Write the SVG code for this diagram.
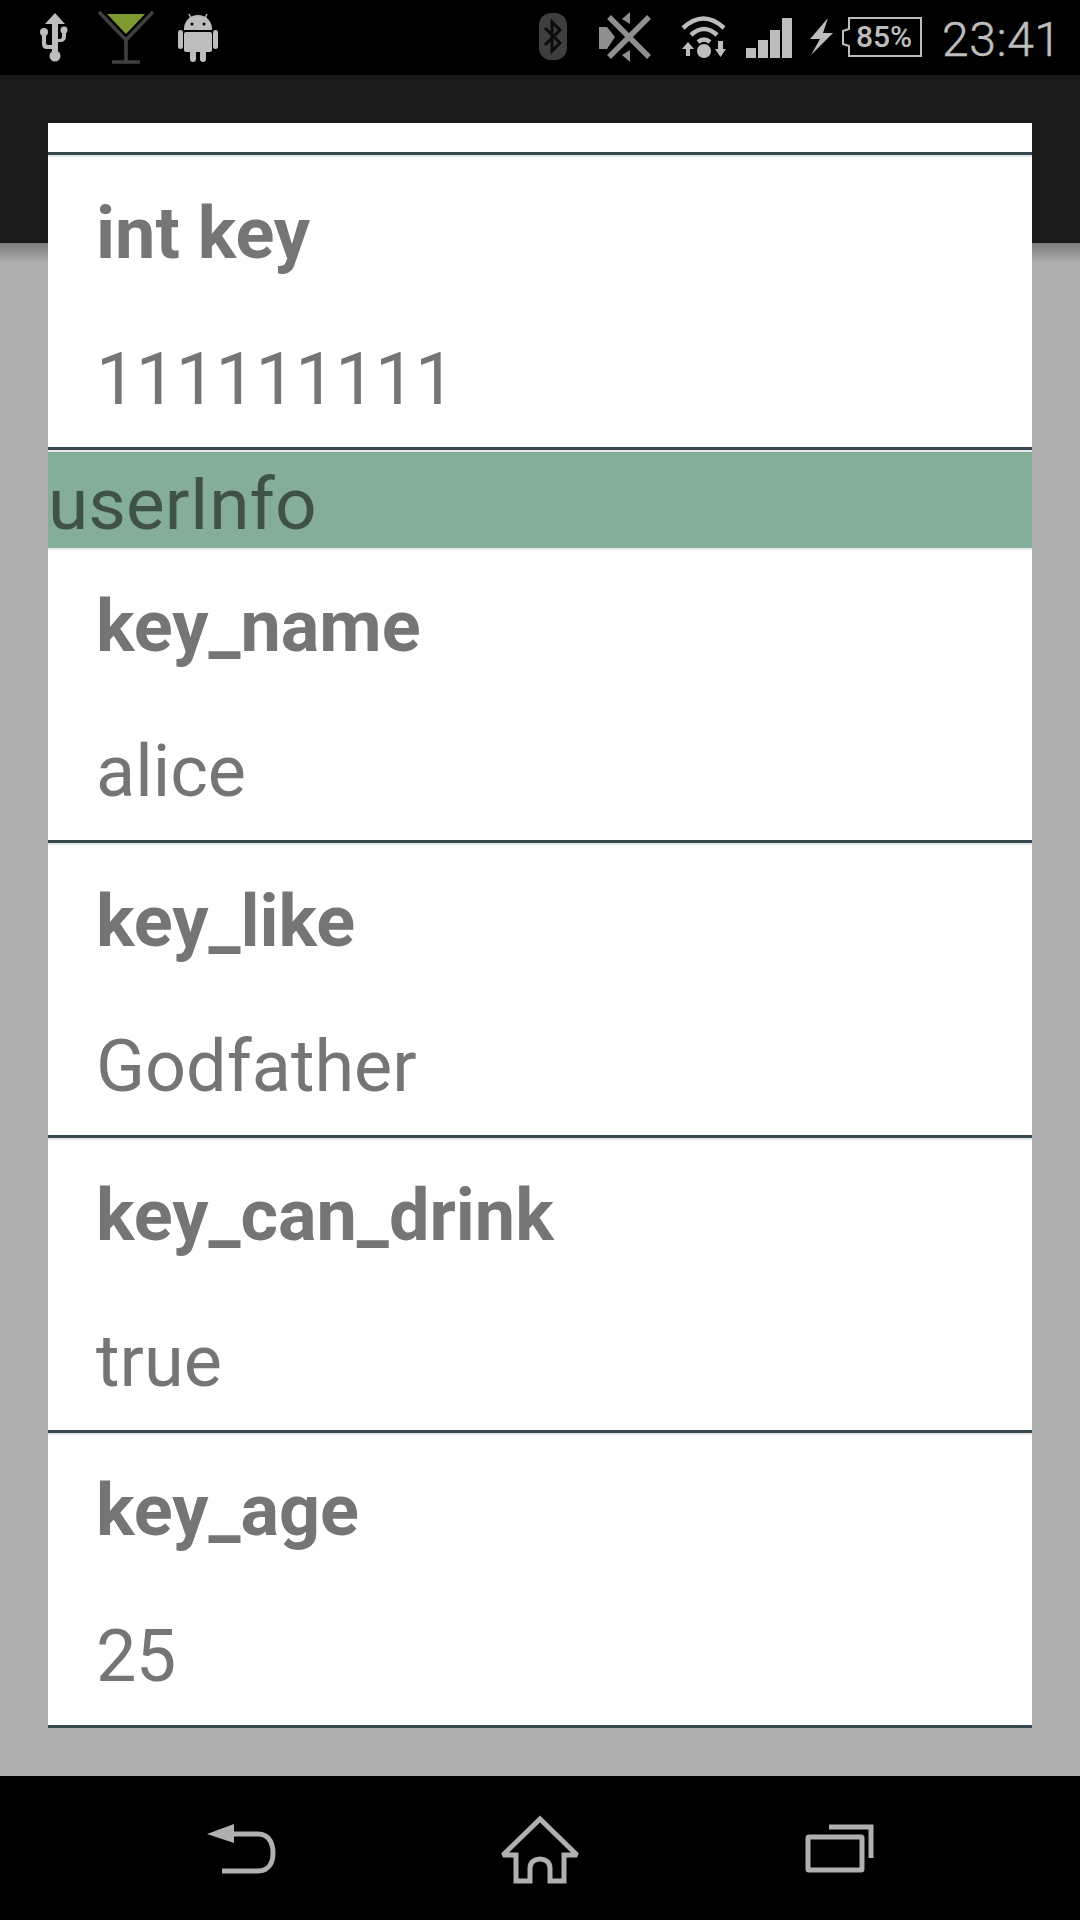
<svg xmlns="http://www.w3.org/2000/svg" width="1080" height="1920" viewBox="0 0 1080 1920">
<defs>
<linearGradient id="sh" x1="0" y1="0" x2="0" y2="1"><stop offset="0" stop-color="#7c7c7c"/><stop offset="1" stop-color="#afafaf"/></linearGradient>
</defs>
<style>
text{font-family:Roboto,"Liberation Sans",sans-serif}
.k{font-size:72px;font-weight:700;fill:#757575}
.v{font-size:72px;font-weight:400;fill:#757575}
.n{letter-spacing:-0.6px}
.d{fill:#36474f}
.l{fill:#e6e9ea}
.ic{fill:#bdbdbd}
.nv{fill:none;stroke:#b0b0b0;stroke-width:5;stroke-miterlimit:2}
.wf{fill:none;stroke:#bdbdbd;stroke-width:4.5}
</style>
<rect width="1080" height="1920" fill="#afafaf"/>
<rect id="statusbar" width="1080" height="75" fill="#000"/>
<rect id="actionbar" y="75" width="1080" height="168" fill="#1a1a1a"/>
<rect y="243" width="1080" height="20" fill="url(#sh)"/>
<rect id="navbar" y="1776" width="1080" height="144" fill="#000"/>

<g id="status-left">
<g id="usb" class="ic">
<path d="M55 13L65 24H58V53H52V24H45Z"/>
<circle cx="55" cy="56" r="5.5"/>
<circle cx="44" cy="32" r="4"/>
<path d="M42 32h4v11q0 2 2 2h6v4h-7q-5 0-5-5Z"/>
<circle cx="64" cy="30" r="3.5"/>
<path d="M62 30h4v6q0 6-6 6h-5v-3h5q2 0 2-3Z"/>
</g>
<g id="martini">
<path d="M107 14L126 34L145 14Z" fill="#7d9a2e"/>
<path d="M99 12L126 40L153 12" fill="none" stroke="#404040" stroke-width="3.5"/>
<path d="M126 38V61M112 62H140" fill="none" stroke="#404040" stroke-width="3.5"/>
</g>
<g id="android" class="ic">
<path d="M184 29a14 14 0 0 1 28 0v1H184Z"/>
<rect x="184" y="32" width="28" height="20" rx="2"/>
<rect x="178" y="30" width="5" height="19" rx="2.5"/>
<rect x="213" y="30" width="5" height="19" rx="2.5"/>
<rect x="190" y="50" width="6" height="12" rx="3"/>
<rect x="200" y="50" width="6" height="12" rx="3"/>
<path d="M189 14L192 20M207 14L204 20" stroke="#bdbdbd" stroke-width="1.5"/>
<circle cx="192" cy="24" r="1.5" fill="#000"/><circle cx="204" cy="24" r="1.5" fill="#000"/>
</g>
</g>

<g id="status-right">
<g id="bluetooth">
<rect x="539" y="13" width="28" height="47" rx="12" fill="#3e3e3e"/>
<path d="M545 28L560 43L552 51V22L560 30L545 45" fill="none" stroke="#0c0c0c" stroke-width="3"/>
</g>
<g id="nosignal" fill="#8f8f8f">
<path d="M599 27H607L615 37L607 49H599Z"/>
<path d="M609 17L649 57M649 17L609 57" stroke="#8f8f8f" stroke-width="5.5" fill="none"/>
<path d="M622 19L630 12V24Z"/>
<path d="M622 55L630 50V62Z"/>
</g>
<g id="wifi" class="ic">
<path class="wf" d="M683 28Q703.5 9 724 28"/>
<path class="wf" d="M691 35Q704 23 717 35"/>
<path class="wf" d="M698 42Q704 37 710 42"/>
<circle cx="704" cy="51" r="7"/>
<path d="M686 56V49H682L688 42L694 49H690V56Z"/>
<path d="M718 41H723V49H726L720.5 57L715 49H718Z"/>
</g>
<g id="signal" class="ic">
<rect x="746" y="48" width="10" height="10"/>
<rect x="758" y="40" width="10" height="18"/>
<rect x="770" y="30" width="10" height="28"/>
<rect x="782" y="18" width="10" height="40"/>
</g>
<path id="bolt" class="ic" d="M828 18L810 39H820L811 55L833 33H823Z"/>
<g id="battery">
<path d="M849 18H921V56H849V46L843 44V31L849 29Z" fill="none" stroke="#bdbdbd" stroke-width="2"/>
<text x="856" y="47" font-size="30" font-weight="500" fill="#bdbdbd">85%</text>
</g>
<text id="clock" x="942" y="56" font-size="48" font-weight="300" letter-spacing="0.6" stroke="#bdbdbd" stroke-width="0.5" fill="#bdbdbd">23:41</text>
</g>

<g id="panel">
<rect x="48" y="123" width="984" height="1605" fill="#fff"/>
<rect class="d" x="48" y="152" width="984" height="3"/><rect class="l" x="48" y="155" width="984" height="2"/>
<rect class="d" x="48" y="447" width="984" height="3"/><rect class="l" x="48" y="450" width="984" height="2"/>
<rect x="48" y="452" width="984" height="96" fill="#85ae99"/>
<rect class="l" x="48" y="548" width="984" height="2"/>
<rect class="d" x="48" y="840" width="984" height="3"/><rect class="l" x="48" y="843" width="984" height="2"/>
<rect class="d" x="48" y="1135" width="984" height="3"/><rect class="l" x="48" y="1138" width="984" height="2"/>
<rect class="d" x="48" y="1430" width="984" height="3"/><rect class="l" x="48" y="1433" width="984" height="2"/>
<rect class="d" x="48" y="1725" width="984" height="3"/>
</g>

<g id="row-int-key"><text class="k" x="96" y="258">int key</text><text class="v n" x="96" y="404">111111111</text></g>
<g id="row-userinfo"><text x="48" y="529" font-size="73" fill="#3f5247">userInfo</text></g>
<g id="row-key-name"><text class="k" x="96" y="651">key_name</text><text class="v" x="96" y="796">alice</text></g>
<g id="row-key-like"><text class="k" x="96" y="946">key_like</text><text class="v" x="96" y="1091">Godfather</text></g>
<g id="row-key-can-drink"><text class="k" x="96" y="1240">key_can_drink</text><text class="v" x="96" y="1386">true</text></g>
<g id="row-key-age"><text class="k" x="96" y="1535">key_age</text><text class="v n" x="96" y="1681">25</text></g>

<g id="nav">
<g id="back">
<path d="M207 1834L234 1824V1843Z" fill="#b0b0b0"/>
<path class="nv" d="M232 1834H258C270 1834 273 1845 273 1853C273 1861 270 1871 258 1871H222"/>
</g>
<path id="home" class="nv" d="M540 1819L503 1855H516V1881H530V1868C530 1856 550 1856 550 1868V1881H564V1855H577Z"/>
<g id="recents">
<rect class="nv" x="808" y="1837" width="54" height="33" rx="1"/>
<path class="nv" d="M829 1827H871V1858"/>
</g>
</g>
</svg>
